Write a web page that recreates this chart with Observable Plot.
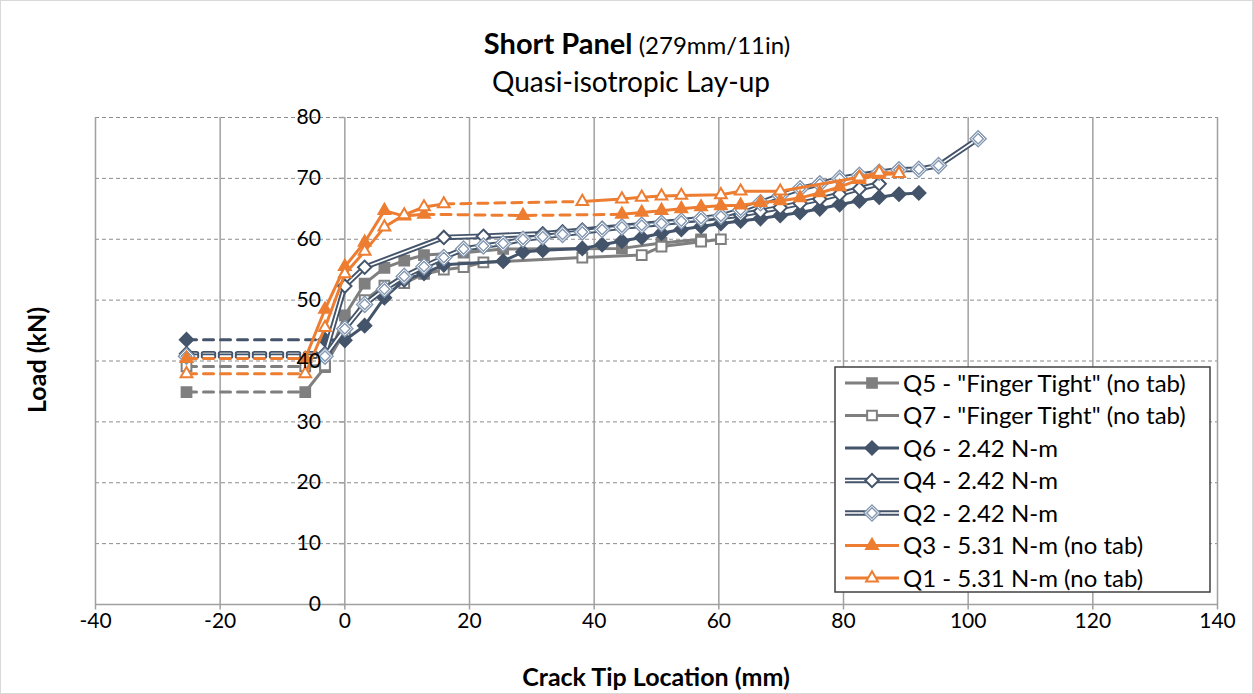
<!DOCTYPE html>
<html><head><meta charset="utf-8">
<script src="https://cdn.jsdelivr.net/npm/d3@7"></script>
<script src="https://cdn.jsdelivr.net/npm/@observablehq/plot@0.6"></script>
<style>
html,body{margin:0;padding:0;background:#fff;}
#chart{width:1253px;height:694px;}
</style></head><body><div id="chart"></div>
<script>
// ---- tick labels ----
const xTicks = [-40, -20, 0, 20, 40, 60, 80, 100, 120, 140];
const yTicks = [0, 10, 20, 30, 40, 50, 60, 70, 80];
const yGrid = [10, 20, 30, 40, 50, 60, 70, 80];

// ---- series (crack tip mm, load kN); dashed = index runs drawn dashed ----
const q5Tip  = [-25.4, -6.35, -3.18, 0, 3.18, 6.35, 9.53, 12.7, 19.05, 25.4, 44.45, 50.8, 57.15];
const q5Load = [34.9, 34.9, 39.0, 47.5, 52.7, 55.3, 56.5, 57.4, 57.8, 58.4, 58.5, 59.4, 60.0];
const q5Dashed = [[0, 1]];

const q7Tip  = [-25.4, -6.35, -3.18, 0, 3.18, 6.35, 9.53, 12.7, 15.88, 19.05, 22.23, 38.1, 47.63, 50.8, 57.15, 60.33];
const q7Load = [39.1, 39.1, 39.3, 44.8, 50.0, 52.4, 52.8, 54.3, 55.0, 55.4, 56.2, 57.0, 57.4, 58.8, 59.6, 60.0];
const q7Dashed = [[0, 1]];

const q6Tip  = [-25.4, -3.18, 0, 3.18, 6.35, 9.53, 12.7, 15.88, 25.4, 28.58, 31.75, 38.1, 41.28, 44.45, 47.63, 50.8, 53.98, 57.15, 60.33, 63.5, 66.68, 69.85, 73.03, 76.2, 79.38, 82.55, 85.73, 88.9, 92.08];
const q6Load = [43.5, 43.5, 43.4, 45.8, 50.4, 53.3, 54.4, 55.8, 56.4, 57.9, 58.2, 58.5, 59.1, 59.7, 60.3, 61.0, 61.6, 62.1, 62.6, 63.0, 63.4, 63.9, 64.4, 65.0, 65.7, 66.3, 66.9, 67.4, 67.6];
const q6Dashed = [[0, 1]];

const q4Tip  = [-25.4, -3.18, 0, 3.18, 15.88, 22.23, 31.75, 34.93, 38.1, 41.28, 44.45, 47.63, 50.8, 53.98, 57.15, 60.33, 63.5, 66.68, 69.85, 73.03, 76.2, 79.38, 82.55, 85.73];
const q4Load = [41.2, 41.2, 52.3, 55.4, 60.3, 60.5, 60.9, 61.2, 61.5, 61.8, 62.1, 62.4, 62.7, 63.0, 63.3, 63.6, 64.0, 64.6, 65.2, 65.9, 66.6, 67.4, 68.3, 69.1];
const q4Dashed = [[0, 1]];

const q2Tip  = [-25.4, -3.18, 0, 3.18, 6.35, 9.53, 12.7, 15.88, 19.05, 22.23, 25.4, 28.58, 31.75, 34.93, 38.1, 41.28, 44.45, 47.63, 50.8, 53.98, 57.15, 60.33, 63.5, 66.68, 69.85, 73.03, 76.2, 79.38, 82.55, 85.73, 88.9, 92.08, 95.25, 101.6];
const q2Load = [40.8, 40.8, 45.3, 49.3, 51.8, 53.9, 55.5, 57.0, 58.4, 58.9, 59.3, 60.0, 60.4, 60.8, 61.2, 61.6, 62.0, 62.3, 62.6, 63.0, 63.4, 63.8, 64.8, 66.0, 67.2, 68.3, 69.1, 70.0, 70.5, 71.0, 71.4, 71.5, 72.1, 76.5];
const q2Dashed = [[0, 1]];

const q3Tip  = [-25.4, -6.35, -3.18, 0, 3.18, 6.35, 9.53, 12.7, 28.58, 44.45, 47.63, 50.8, 53.98, 57.15, 60.33, 63.5, 66.68, 69.85, 73.03, 76.2, 79.38, 82.55, 85.73, 88.9];
const q3Load = [40.4, 40.4, 48.5, 55.5, 59.5, 64.7, 63.8, 64.1, 63.9, 64.1, 64.4, 64.7, 65.0, 65.3, 65.5, 65.6, 66.0, 66.3, 66.8, 67.6, 68.6, 69.8, 70.6, 70.8];
const q3Dashed = [[0, 1], [7, 9]];

const q1Tip  = [-25.4, -6.35, -3.18, 0, 3.18, 6.35, 9.53, 12.7, 15.88, 38.1, 44.45, 47.63, 50.8, 53.98, 60.33, 63.5, 69.85, 82.55, 85.73, 88.9];
const q1Load = [37.9, 37.9, 45.5, 54.3, 58.0, 62.0, 64.0, 65.3, 65.8, 66.2, 66.6, 66.9, 67.1, 67.2, 67.3, 67.9, 67.9, 70.2, 71.0, 70.8];
const q1Dashed = [[0, 1], [8, 9]];

const seriesNames = ['Q5 - "Finger Tight" (no tab)', 'Q7 - "Finger Tight" (no tab)', 'Q6 - 2.42 N-m', 'Q4 - 2.42 N-m', 'Q2 - 2.42 N-m', 'Q3 - 5.31 N-m (no tab)', 'Q1 - 5.31 N-m (no tab)'];

const GRAY = "#7F7F7F", SLATE = "#44546A", LSLATE = "#8497B0", ORANGE = "#ED7D31";
const series = [
  {name: seriesNames[0], tip: q5Tip, load: q5Load, dashed: q5Dashed, color: GRAY, sym: "square2", r: 6.2, filled: true},
  {name: seriesNames[1], tip: q7Tip, load: q7Load, dashed: q7Dashed, color: GRAY, sym: "square2", r: 6.2, filled: false},
  {name: seriesNames[2], tip: q6Tip, load: q6Load, dashed: q6Dashed, color: SLATE, sym: "diamond2", r: 6.0, filled: true},
  {name: seriesNames[3], tip: q4Tip, load: q4Load, dashed: q4Dashed, color: SLATE, sym: "diamond2", r: 6.0, filled: false, double: true},
  {name: seriesNames[4], tip: q2Tip, load: q2Load, dashed: q2Dashed, color: SLATE, mcolor: LSLATE, sym: "diamond2", r: 6.0, filled: false, double: true, dmarker: true},
  {name: seriesNames[5], tip: q3Tip, load: q3Load, dashed: q3Dashed, color: ORANGE, sym: "triangle2", r: 5.6, filled: true},
  {name: seriesNames[6], tip: q1Tip, load: q1Load, dashed: q1Dashed, color: ORANGE, sym: "triangle2", r: 5.6, filled: false}
];

function splitRuns(s) {
  const n = s.tip.length, solid = [], dash = [];
  const isDash = i => s.dashed.some(([a, b]) => i >= a && i < b);
  let seg = 0, i = 0;
  while (i < n - 1) {
    const d = isDash(i);
    let j = i;
    while (j < n - 1 && isDash(j) === d) j++;
    const target = d ? dash : solid;
    for (let k = i; k <= j; k++) target.push({x: s.tip[k], y: s.load[k], seg});
    seg++; i = j;
  }
  return {solid, dash};
}

const marks = [];
// gridlines
marks.push(Plot.ruleY(yGrid, {stroke: "#8C8C8C", strokeWidth: 1, strokeDasharray: "4,3"}));
marks.push(Plot.ruleX(xTicks, {stroke: "#A0A0A0", strokeWidth: 1.5}));
marks.push(Plot.ruleY([0], {stroke: "#A0A0A0", strokeWidth: 1.5}));
// tick marks
marks.push(Plot.ruleX(xTicks, {y1: 0, y2: -0.9, stroke: "#A0A0A0", strokeWidth: 1.5}));
marks.push(Plot.ruleY(yTicks, {x1: -0.9, x2: 0, stroke: "#A0A0A0", strokeWidth: 1.5}));

const DASH = "10,7";
for (const s of series) {
  const {solid, dash} = splitRuns(s);
  const w = s.double ? 5.5 : 3;
  const common = {x: "x", y: "y", z: "seg", stroke: s.color, strokeWidth: w, strokeLinejoin: "round"};
  marks.push(Plot.line(solid, common));
  marks.push(Plot.line(dash, {...common, strokeDasharray: DASH}));
  if (s.double) {
    const inner = {x: "x", y: "y", z: "seg", stroke: "white", strokeWidth: 1.7, strokeLinejoin: "round"};
    marks.push(Plot.line(solid, inner));
    marks.push(Plot.line(dash, {...inner, strokeDasharray: DASH}));
  }
  const pts = s.tip.map((t, i) => ({x: t, y: s.load[i]}));
  const mc = s.mcolor || s.color;
  marks.push(Plot.dot(pts, {x: "x", y: "y", symbol: s.sym, r: s.r,
    fill: s.filled ? mc : "white", stroke: mc, strokeWidth: s.dmarker ? 3.4 : 2}));
  if (s.dmarker) {
    marks.push(Plot.dot(pts, {x: "x", y: "y", symbol: s.sym, r: s.r, fill: "none", stroke: "white", strokeWidth: 1}));
  }
}

// axis labels
marks.push(Plot.text(xTicks, {x: d => d, y: 0, dy: 17, text: d => String(d), fontSize: 21, fill: "#000", textAnchor: "middle"}));
marks.push(Plot.text(yTicks, {x: 0, y: d => d, dx: -24, text: d => String(d), fontSize: 21, fill: "#000", textAnchor: "end"}));

const chart = Plot.plot({
  width: 1253, height: 694,
  marginLeft: 95, marginRight: 36, marginTop: 117, marginBottom: 90,
  x: {domain: [-40, 140], axis: null},
  y: {domain: [0, 80], axis: null},
  style: {fontFamily: "Lato, 'Open Sans', sans-serif", background: "white", overflow: "visible"},
  marks
});
document.getElementById("chart").appendChild(chart);

// titles, border, legend
const svg = d3.select(chart);
svg.insert("rect", ":first-child").attr("x", 0.5).attr("y", 0.5).attr("width", 1252).attr("height", 693)
  .attr("fill", "white").attr("stroke", "#D9D9D9");
const FONT = "Lato, 'Open Sans', sans-serif";
const t = svg.append("text").attr("x", 637).attr("y", 54).attr("text-anchor", "middle")
  .attr("font-family", FONT).attr("fill", "#000");
t.append("tspan").attr("font-weight", "bold").attr("font-size", 29).text("Short Panel");
t.append("tspan").attr("font-size", 24).text(" (279mm/11in)");
svg.append("text").attr("x", 631).attr("y", 92).attr("text-anchor", "middle").attr("font-family", FONT)
  .attr("font-size", 28).attr("fill", "#000").text("Quasi-isotropic Lay-up");
svg.append("text").attr("transform", "translate(46,360) rotate(-90)").attr("text-anchor", "middle")
  .attr("font-family", FONT).attr("font-size", 25).attr("font-weight", "bold").attr("fill", "#000").text("Load (kN)");
svg.append("text").attr("x", 656).attr("y", 686).attr("text-anchor", "middle").attr("font-family", FONT)
  .attr("font-size", 25).attr("font-weight", "bold").attr("fill", "#000").text("Crack Tip Location (mm)");

const lg = svg.append("g");
lg.append("rect").attr("x", 835).attr("y", 367).attr("width", 375).attr("height", 225)
  .attr("fill", "white").attr("stroke", "#404040").attr("stroke-width", 1.5);
const symMap = {square2: d3.symbolSquare2, diamond2: d3.symbolDiamond2, triangle2: d3.symbolTriangle2};
series.forEach((s, i) => {
  const cy = 383 + i * 32.5;
  const w = s.double ? 5.5 : 3;
  lg.append("line").attr("x1", 845).attr("x2", 899).attr("y1", cy).attr("y2", cy)
    .attr("stroke", s.color).attr("stroke-width", w);
  if (s.double) lg.append("line").attr("x1", 845).attr("x2", 899).attr("y1", cy).attr("y2", cy)
    .attr("stroke", "white").attr("stroke-width", 1.7);
  const mc = s.mcolor || s.color;
  const p = d3.symbol(symMap[s.sym], Math.PI * s.r * s.r)();
  lg.append("path").attr("d", p).attr("transform", `translate(872,${cy})`)
    .attr("fill", s.filled ? mc : "white").attr("stroke", mc).attr("stroke-width", s.dmarker ? 3.4 : 2);
  if (s.dmarker) lg.append("path").attr("d", p).attr("transform", `translate(872,${cy})`)
    .attr("fill", "none").attr("stroke", "white").attr("stroke-width", 1);
  lg.append("text").attr("x", 903).attr("y", cy).attr("dy", "0.36em").attr("text-anchor", "start")
    .attr("font-family", FONT).attr("font-size", 24).attr("fill", "#000").text(s.name);
});
</script></body></html>
